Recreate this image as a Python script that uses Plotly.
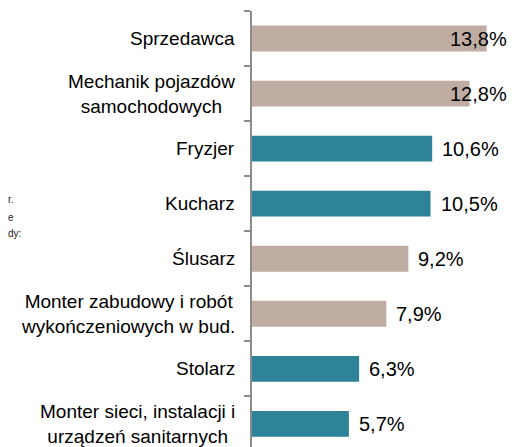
import plotly.graph_objects as go

categories = [
    "Sprzedawca",
    "Mechanik pojazdów<br>samochodowych",
    "Fryzjer",
    "Kucharz",
    "Ślusarz",
    "Monter zabudowy i robót<br>wykończeniowych w bud.",
    "Stolarz",
    "Monter sieci, instalacji i<br>urządzeń sanitarnych",
]
values = [13.8, 12.8, 10.6, 10.5, 9.2, 7.9, 6.3, 5.7]
groups = ["a", "a", "b", "b", "a", "a", "b", "b"]
value_labels = ["13,8%", "12,8%", "10,6%", "10,5%", "9,2%", "7,9%", "6,3%", "5,7%"]

COLORS = {"a": "#BFADA3", "b": "#2E8399"}
XMAX = 15
FONT = "Liberation Sans, Arial, sans-serif"

fig = go.Figure()
fig.add_trace(go.Bar(
    x=values,
    y=categories,
    orientation="h",
    marker=dict(color=[COLORS[g] for g in groups], line=dict(width=0)),
    width=0.47,
    hoverinfo="skip",
))

annotations = []
for cat in categories:
    annotations.append(dict(
        x=0, xref="paper", y=cat, yref="y",
        text=cat, showarrow=False, xanchor="right", yanchor="middle",
        align="center", xshift=-15,
        font=dict(family=FONT, size=19, color="#000000"),
    ))

text_units = 3.45
pad_units = 0.6
for cat, v, lab in zip(categories, values, value_labels):
    if v + pad_units + text_units > XMAX:
        annotations.append(dict(x=XMAX, y=cat, xref="x", yref="y", text=lab,
                                showarrow=False, xanchor="right", yanchor="middle",
                                xshift=2,
                                font=dict(family=FONT, size=20, color="#000000")))
    else:
        annotations.append(dict(x=v, y=cat, xref="x", yref="y", text=lab,
                                showarrow=False, xanchor="left", yanchor="middle", xshift=8,
                                font=dict(family=FONT, size=20, color="#000000")))

# fragments of neighbouring slide text at the left edge
for txt, yy in [("r.", 190), ("e", 208), ("dy:", 224)]:
    annotations.append(dict(x=0, y=1 - yy / 439, xref="paper", yref="paper", text=txt,
                            showarrow=False, xanchor="left", yanchor="middle",
                            xshift=-245, borderpad=0,
                            font=dict(family=FONT, size=10, color="#222222")))

fig.update_layout(
    width=511, height=439,
    margin=dict(l=244, r=12, t=3, b=0),
    paper_bgcolor="white", plot_bgcolor="white",
    showlegend=False,
    annotations=annotations,
    xaxis=dict(range=[0, XMAX], visible=False, showgrid=False, zeroline=False),
    yaxis=dict(
        type="category", categoryorder="array", categoryarray=categories,
        range=[7.42, -0.5],
        showticklabels=False, showgrid=False, zeroline=False,
        showline=True, linecolor="#8C8C8C", linewidth=2,
        ticks="outside", tickson="boundaries", ticklen=6, tickcolor="#8C8C8C", tickwidth=2,
    ),
)

fig.write_html("out.html")
